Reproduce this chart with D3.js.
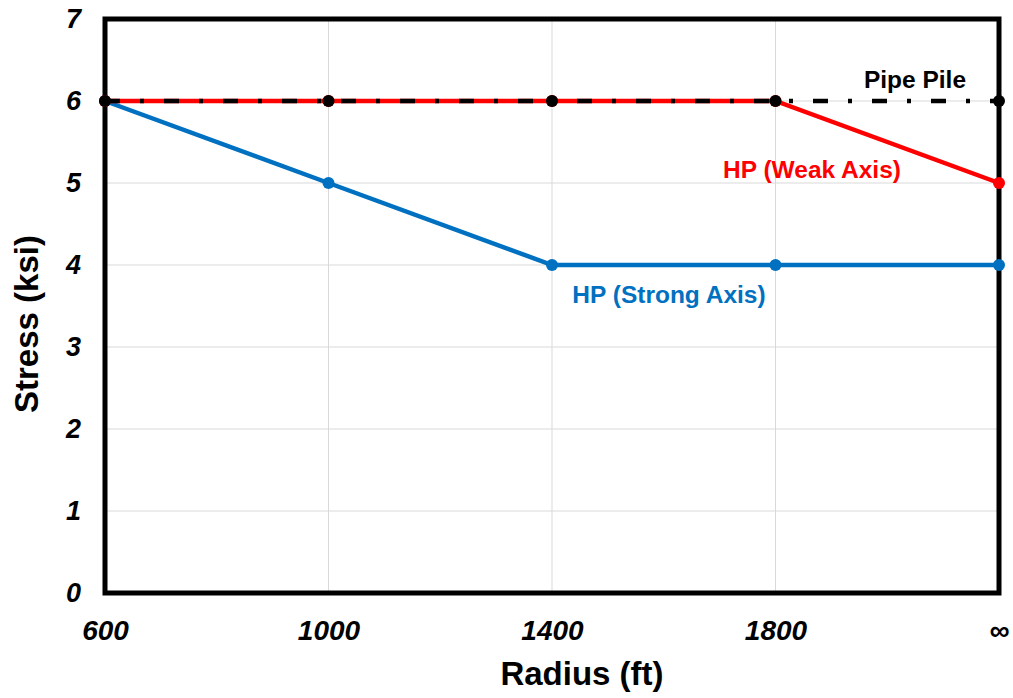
<!DOCTYPE html>
<html>
<head>
<meta charset="utf-8">
<script src="https://cdn.jsdelivr.net/npm/d3@7"></script>
<style>
  body { margin: 0; background: #fff; }
  svg text { font-family: "Liberation Sans", Arial, sans-serif; font-weight: bold; }
</style>
</head>
<body>
<svg id="chart" width="1013" height="698"></svg>
<script>
// data
const radius = ["600", "1000", "1400", "1800", "∞"];
const pipePile = [6, 6, 6, 6, 6];
const hpWeak = [6, 6, 6, 6, 5];
const hpStrong = [6, 5, 4, 4, 4];
const yTicks = [0, 1, 2, 3, 4, 5, 6, 7];

const svg = d3.select("#chart");
const plotLeft = 105, plotRight = 999, plotTop = 19, plotBottom = 593;

const x = d3.scalePoint().domain(radius).range([plotLeft, plotRight]);
const y = d3.scaleLinear().domain([0, 7]).range([plotBottom, plotTop]);

// grid
svg.append("g")
   .selectAll("line")
   .data(yTicks)
   .enter().append("line")
   .attr("x1", plotLeft).attr("x2", plotRight)
   .attr("y1", d => y(d)).attr("y2", d => y(d))
   .attr("stroke", "#d9d9d9").attr("stroke-width", 1);

svg.append("g")
   .selectAll("line")
   .data(radius)
   .enter().append("line")
   .attr("x1", d => x(d)).attr("x2", d => x(d))
   .attr("y1", plotTop).attr("y2", plotBottom)
   .attr("stroke", "#d9d9d9").attr("stroke-width", 1);

// frame
svg.append("rect")
   .attr("x", plotLeft).attr("y", plotTop)
   .attr("width", plotRight - plotLeft).attr("height", plotBottom - plotTop)
   .attr("fill", "none").attr("stroke", "#000").attr("stroke-width", 5);

// axes
const yAxis = svg.append("g")
   .attr("transform", `translate(${plotLeft},0)`)
   .call(d3.axisLeft(y).tickValues(yTicks).tickSize(0).tickPadding(24).tickFormat(d3.format("d")));
yAxis.select(".domain").remove();
yAxis.selectAll("text")
   .attr("font-size", 27).attr("font-style", "italic")
   .attr("font-family", "Liberation Sans, Arial, sans-serif").attr("font-weight", "bold")
   .attr("fill", "#000");

const xAxis = svg.append("g")
   .attr("transform", `translate(0,${plotBottom})`)
   .call(d3.axisBottom(x).tickSize(0).tickPadding(27));
xAxis.select(".domain").remove();
xAxis.selectAll("text")
   .attr("font-size", 28).attr("font-style", "italic")
   .attr("font-family", "Liberation Sans, Arial, sans-serif").attr("font-weight", "bold")
   .attr("fill", "#000");

// axis titles
svg.append("text")
   .attr("x", 582).attr("y", 685)
   .attr("text-anchor", "middle").attr("font-size", 33)
   .text("Radius (ft)");

svg.append("text")
   .attr("transform", "translate(38,324) rotate(-90)")
   .attr("text-anchor", "middle").attr("font-size", 33)
   .text("Stress (ksi)");

// series
const line = d3.line().x((d, i) => x(radius[i])).y(d => y(d));

function drawSeries(values, color, dash) {
    svg.append("path")
       .datum(values)
       .attr("d", line)
       .attr("fill", "none")
       .attr("stroke", color)
       .attr("stroke-width", 4.5)
       .attr("stroke-dasharray", dash || null);
    svg.append("g")
       .selectAll("circle")
       .data(values)
       .enter().append("circle")
       .attr("cx", (d, i) => x(radius[i]))
       .attr("cy", d => y(d))
       .attr("r", 6)
       .attr("fill", color);
}

drawSeries(hpStrong, "#0070C0");
drawSeries(hpWeak, "#FF0000");
drawSeries(pipePile, "#000000", "15,20,4,20");

// series labels
svg.append("text").attr("x", 915).attr("y", 88)
   .attr("text-anchor", "middle").attr("font-size", 24.5).attr("fill", "#000")
   .text("Pipe Pile");
svg.append("text").attr("x", 812).attr("y", 178)
   .attr("text-anchor", "middle").attr("font-size", 24.5).attr("fill", "#FF0000")
   .text("HP (Weak Axis)");
svg.append("text").attr("x", 669).attr("y", 303)
   .attr("text-anchor", "middle").attr("font-size", 24.5).attr("fill", "#0070C0")
   .text("HP (Strong Axis)");
</script>
</body>
</html>
